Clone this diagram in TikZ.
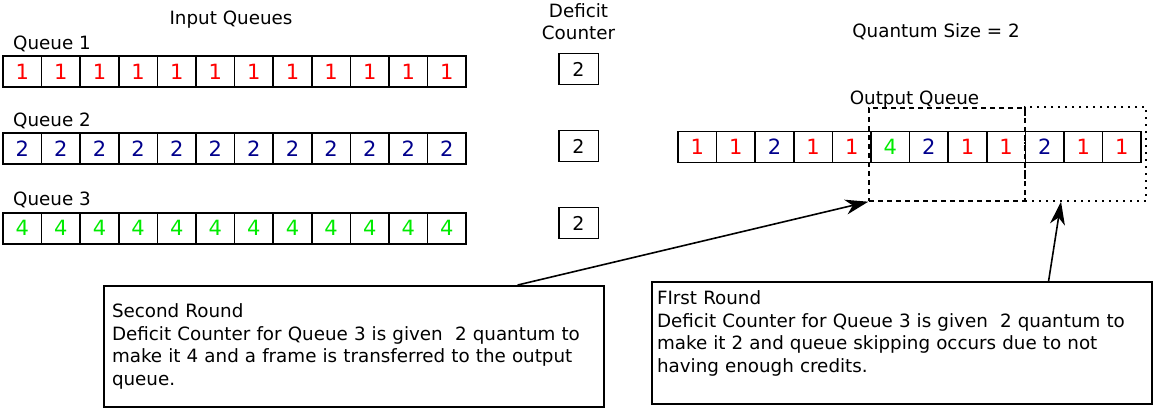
\documentclass[tikz,border=0pt]{standalone}
\usepackage{fontspec}
\setmainfont{DejaVu Sans}
\usetikzlibrary{arrows.meta,positioning,calc}
\definecolor{val1}{RGB}{255,0,0}
\definecolor{val2}{RGB}{0,0,140}
\definecolor{val4}{RGB}{0,235,0}
\tikzset{
  cell/.style={draw, line width=1.5pt, minimum width=38.6pt, minimum height=31pt,
    inner sep=0pt, font=\fontsize{21}{21}\selectfont},
  dcbox/.style={draw, line width=1.5pt, minimum width=39.5pt, minimum height=31pt,
    inner sep=0pt, font=\fontsize{19}{19}\selectfont},
  lbl/.style={inner sep=0pt, font=\fontsize{18.3}{22.5}\selectfont},
  callout/.style={draw, line width=2pt, align=left, inner ysep=0pt,
    font=\fontsize{18.3}{22.5}\selectfont},
  pointer/.style={-{Stealth[length=23pt,width=15pt,inset=7pt]}, line width=1.6pt},
}

\begin{document}
\begin{tikzpicture}[x=1pt, y=-1pt]
    \useasboundingbox (0,0) rectangle (1155,408);
    % input queues
    \node[lbl, anchor=base] (intitle) at (231,24) {Input Queues};
    \foreach \q/\v/\y in {1/1/71.7, 2/2/148.5, 3/4/228.3} {
      \node[lbl, anchor=base west] (qlabel\q) at (13,\y-22.5) {Queue \q};
      \foreach \i in {1,...,12}
        \node[cell, text=val\v] (q\q c\i) at ({3+19.3+(\i-1)*38.6},\y) {\v};
    }
    % deficit counters
    \node[lbl, align=center, anchor=north] (dctitle) at (578.5,3) {Deficit\\Counter};
    \node[dcbox] (dc1) at (578.5,69) {2};
    \node[dcbox] (dc2) at (578.5,146) {2};
    \node[dcbox] (dc3) at (578.5,223) {2};
    % output queue
    \node[lbl, anchor=base] (quantum) at (936,37.5) {Quantum Size = 2};
    \node[lbl, anchor=base] (outtitle) at (914.5,104) {Output Queue};
    \foreach \v [count=\i] in {1,1,2,1,1,4,2,1,1,2,1,1}
      \node[cell, text=val\v] (out\i) at ({678+19.3+(\i-1)*38.6},147) {\v};
    \node[draw, line width=1.4pt, dash pattern=on 5pt off 4pt,
      minimum width=156pt, minimum height=93pt] (win2) at (947,154.5) {};
    \node[draw, line width=1.4pt, dash pattern=on 2pt off 5pt,
      minimum width=121pt, minimum height=94pt] (win1) at (1085.5,154) {};
    % callouts
    \node[callout, text width=484pt, inner xsep=8pt, minimum height=121pt]
      (second) at (354,346.5)
      {Second Round\\
       Deficit Counter for Queue 3 is given\ \ 2 quantum to\\
       make it 4 and a frame is transferred to the output\\
       queue.};
    \node[callout, text width=490pt, inner xsep=5pt, minimum height=122pt]
      (first) at (902,343)
      {FIrst Round\\
       Deficit Counter for Queue 3 is given\ \ 2 quantum to\\
       make it 2 and queue skipping occurs due to not\\
       having enough credits.\\
       \mbox{}};
    \draw[pointer] ($(second.north west)!0.826!(second.north east)$) -- (win2.south west);
    \draw[pointer] ($(first.north west)!0.792!(first.north east)$)
      -- ($(win1.south west)!0.3!(win1.south east)$);
\end{tikzpicture}
\end{document}
